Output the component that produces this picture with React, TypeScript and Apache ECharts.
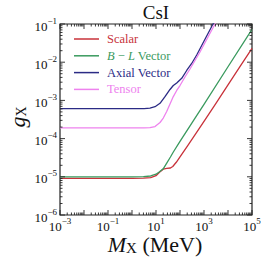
import React, { useEffect, useRef } from 'react';
import * as echarts from 'echarts';

// Masses in MeV, couplings g_X
const massScalar = [1e-3, 1e-2, 0.1, 1, 3, 6, 10, 14, 20, 28, 40, 50, 70, 100, 200, 400, 1100, 3000, 1e4, 3e4, 1e5];
const gScalar = [9.1e-6, 9.1e-6, 9.1e-6, 9.1e-6, 9.2e-6, 9.5e-6, 1.07e-5, 1.32e-5, 1.58e-5, 1.66e-5, 1.7e-5, 1.86e-5, 2.4e-5, 3.3e-5, 6.3e-5, 1.2e-4, 3.1e-4, 8.0e-4, 2.55e-3, 7.3e-3, 2.3e-2];

const massBL = [1e-3, 1e-2, 0.1, 1, 3, 6, 10, 14, 20, 28, 40, 52, 100, 380, 1000, 1e4, 1e5];
const gBL = [1e-5, 1e-5, 1e-5, 1e-5, 1.01e-5, 1.05e-5, 1.17e-5, 1.35e-5, 1.62e-5, 2.29e-5, 3.3e-5, 4.4e-5, 8.5e-5, 3.09e-4, 7.9e-4, 7.6e-3, 7.2e-2];

const massAxial = [1e-3, 1e-2, 0.1, 1, 3.2, 5.6, 9.1, 14.7, 23.7, 38.3, 52.6, 72.9, 118, 190, 307, 497, 2371, 3981];
const gAxial = [6.1e-4, 6.1e-4, 6.1e-4, 6.1e-4, 6.1e-4, 6.3e-4, 6.84e-4, 8.4e-4, 1.25e-3, 1.93e-3, 2.45e-3, 2.85e-3, 3.79e-3, 6.07e-3, 9.25e-3, 1.54e-2, 0.1, 0.178];

const massTensor = [1e-3, 1e-2, 0.1, 1, 3.2, 5.6, 9.1, 14.7, 20.1, 27.9, 38.3, 52.6, 72.9, 100, 161, 261, 681, 2870, 3981];
const gTensor = [1.9e-4, 1.9e-4, 1.9e-4, 1.9e-4, 1.9e-4, 1.93e-4, 2.07e-4, 2.64e-4, 3.46e-4, 5.12e-4, 8.05e-4, 1.26e-3, 1.82e-3, 2.45e-3, 4.1e-3, 6.64e-3, 1.85e-2, 0.1, 0.15];

const seriesNames = ['Scalar', 'B − L Vector', 'Axial Vector', 'Tensor'];
const colors = ['#c8323a', '#3a9a5e', '#2b2b85', '#ee82ee'];

const xMin = 1e-3;
const xMax = 1e5;
const yMin = 1e-6;
const yMax = 1e-1;

const SERIF = '"Liberation Serif", "DejaVu Serif", serif';

function expLabel(v: number): string {
  const e = Math.round(Math.log10(v));
  const s = e < 0 ? '−' + Math.abs(e) : String(e);
  return '{b|10}{s|' + s + '}';
}

function logTicks(lo: number, hi: number): number[][] {
  const out: number[][] = [];
  const e0 = Math.round(Math.log10(lo));
  const e1 = Math.round(Math.log10(hi));
  for (let e = e0; e <= e1; e++) {
    for (let m = 1; m <= 9; m++) {
      const v = m * Math.pow(10, e);
      if (v > hi * 1.0001) break;
      out.push([v, m === 1 ? 1 : 0]);
    }
  }
  return out;
}

export default function App() {
  const ref = useRef<HTMLDivElement>(null);

  useEffect(() => {
    if (!ref.current) return;
    const chart = echarts.init(ref.current, null, { renderer: 'svg' });

    const labelRich = {
      b: { fontSize: 13, fontFamily: SERIF, color: '#111', lineHeight: 20 },
      s: { fontSize: 9, fontFamily: SERIF, color: '#111', lineHeight: 7, verticalAlign: 'top' },
    };

    const xTickData = logTicks(xMin, xMax).map((t) => [t[0], yMin, t[1]]);
    const yTickData = logTicks(yMin, yMax).map((t) => [xMin, t[0], t[1]]);

    const lineSeries = [
      [massScalar, gScalar],
      [massBL, gBL],
      [massAxial, gAxial],
      [massTensor, gTensor],
    ].map((pair, k) => ({
      name: seriesNames[k],
      type: 'line',
      data: pair[0].map((m: number, i: number) => [m, pair[1][i]]),
      showSymbol: false,
      symbol: 'none',
      smooth: false,
      clip: true,
      lineStyle: { color: colors[k], width: 1.3, join: 'round' },
      itemStyle: { color: colors[k] },
      z: 3,
    }));

    const option: any = {
      animation: false,
      grid: {
        left: 60,
        right: 14,
        top: 24,
        bottom: 47,
        show: true,
        borderColor: '#222',
        borderWidth: 1.2,
        backgroundColor: 'transparent',
      },
      xAxis: {
        type: 'log',
        logBase: 10,
        min: xMin,
        max: xMax,
        interval: 1,
        axisLine: { show: false },
        axisTick: { show: false },
        splitLine: { show: false },
        minorTick: { show: false },
        axisLabel: {
          margin: 1,
          formatter: (v: number) => {
            const e = Math.round(Math.log10(v));
            return (e + 3) % 2 === 0 ? expLabel(v) : '';
          },
          rich: labelRich,
          showMinLabel: true,
          showMaxLabel: true,
          hideOverlap: false,
        },
      },
      yAxis: {
        type: 'log',
        logBase: 10,
        min: yMin,
        max: yMax,
        interval: 1,
        axisLine: { show: false },
        axisTick: { show: false },
        splitLine: { show: false },
        minorTick: { show: false },
        axisLabel: {
          margin: 3,
          padding: [4, 0, 0, 0],
          formatter: (v: number) => expLabel(v),
          rich: labelRich,
          showMinLabel: true,
          showMaxLabel: true,
          hideOverlap: false,
        },
      },
      legend: {
        orient: 'vertical',
        left: 74,
        top: 32,
        padding: 0,
        itemWidth: 25,
        itemHeight: 14,
        itemGap: 2.8,
        selectedMode: false,
        icon: 'path://M0,0H50V3H0Z',
        data: seriesNames.map((n, k) => ({
          name: n,
          itemStyle: { color: colors[k] },
          textStyle: { color: colors[k] },
        })),
        formatter: (name: string) => (name === 'B − L Vector' ? '{i|B} − {i|L} Vector' : name),
        textStyle: {
          fontFamily: SERIF,
          fontSize: 12.5,
          lineHeight: 14,
          padding: [0, 0, 0, 3],
          rich: {
            i: { fontFamily: SERIF, fontSize: 12.5, fontStyle: 'italic', color: colors[1] },
          },
        },
      },
      series: [
        ...lineSeries,
        {
          type: 'custom',
          name: 'xticks',
          data: xTickData,
          encode: { x: 0, y: 1 },
          clip: false,
          silent: true,
          z: 10,
          renderItem: (params: any, api: any) => {
            const cs = params.coordSys;
            const px = api.coord([api.value(0), yMin])[0];
            const len = api.value(2) ? 5 : 2.5;
            const st = { stroke: '#222', lineWidth: 0.9 };
            return {
              type: 'group',
              children: [
                { type: 'line', shape: { x1: px, y1: cs.y + cs.height, x2: px, y2: cs.y + cs.height - len }, style: st },
                { type: 'line', shape: { x1: px, y1: cs.y, x2: px, y2: cs.y + len }, style: st },
              ],
            };
          },
        },
        {
          type: 'custom',
          name: 'yticks',
          data: yTickData,
          encode: { x: 0, y: 1 },
          clip: false,
          silent: true,
          z: 10,
          renderItem: (params: any, api: any) => {
            const cs = params.coordSys;
            const py = api.coord([xMin, api.value(1)])[1];
            const len = api.value(2) ? 5 : 2.5;
            const st = { stroke: '#222', lineWidth: 0.9 };
            return {
              type: 'group',
              children: [
                { type: 'line', shape: { x1: cs.x, y1: py, x2: cs.x + len, y2: py }, style: st },
                { type: 'line', shape: { x1: cs.x + cs.width, y1: py, x2: cs.x + cs.width - len, y2: py }, style: st },
              ],
            };
          },
        },
      ],
      graphic: [
        {
          type: 'text',
          x: 156,
          y: 12,
          style: {
            text: 'CsI',
            fontFamily: SERIF,
            fontSize: 19,
            fill: '#111',
            align: 'center',
            verticalAlign: 'middle',
          },
        },
        {
          type: 'text',
          x: 155,
          y: 244,
          style: {
            text: '{m|M}{s|X} (MeV)',
            fontFamily: SERIF,
            fontSize: 22,
            fill: '#111',
            align: 'center',
            verticalAlign: 'middle',
            rich: {
              m: { fontFamily: SERIF, fontSize: 22, fontStyle: 'italic', fill: '#111', lineHeight: 22, verticalAlign: 'bottom' },
              s: { fontFamily: SERIF, fontSize: 15, fill: '#111', lineHeight: 14, verticalAlign: 'bottom' },
            },
          },
        },
        {
          type: 'text',
          x: 16,
          y: 117,
          rotation: Math.PI / 2,
          style: {
            text: '{g|g}{s|X}',
            fontFamily: SERIF,
            fontSize: 21,
            fill: '#111',
            align: 'center',
            verticalAlign: 'middle',
            rich: {
              g: { fontFamily: SERIF, fontSize: 22, fontStyle: 'italic', fill: '#111', lineHeight: 24, verticalAlign: 'bottom' },
              s: { fontFamily: SERIF, fontSize: 14, fill: '#111', lineHeight: 14, verticalAlign: 'bottom' },
            },
          },
        },
      ],
    };

    chart.setOption(option);
    return () => chart.dispose();
  }, []);

  return (
    <div
      ref={ref}
      style={{ position: 'fixed', left: 0, top: 0, width: 266, height: 262, background: '#fff' }}
    />
  );
}
